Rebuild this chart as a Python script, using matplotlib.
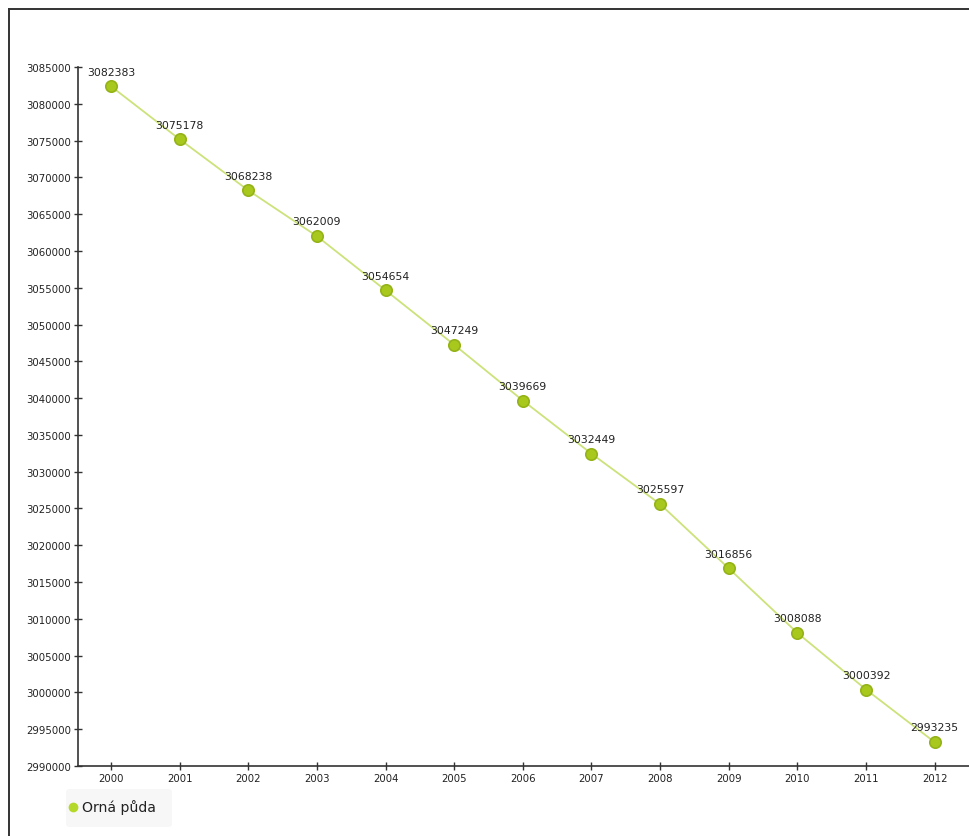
import numpy as np
import matplotlib
matplotlib.use('Agg')
import matplotlib.pyplot as plt
from matplotlib.lines import Line2D
from matplotlib.patches import FancyBboxPatch

# data
years = [2000, 2001, 2002, 2003, 2004, 2005, 2006, 2007, 2008, 2009, 2010, 2011, 2012]
orna_puda = [3082383, 3075178, 3068238, 3062009, 3054654, 3047249, 3039669,
             3032449, 3025597, 3016856, 3008088, 3000392, 2993235]
y_ticks = list(range(2990000, 3085001, 5000))
series_name = 'Orná půda'

W, H = 969, 837
fig = plt.figure(figsize=(W / 100, H / 100), dpi=100)

# frame around the chart (left and top edges visible)
fig.add_artist(Line2D([9 / W, 9 / W], [0, 1 - 10 / H], color='#333333', lw=1.4, transform=fig.transFigure))
fig.add_artist(Line2D([9 / W, 1], [1 - 10 / H, 1 - 10 / H], color='#333333', lw=1.4, transform=fig.transFigure))

ax = fig.add_axes([78 / W, (H - 767) / H, (W - 78) / W, (767 - 68) / H])
ax.plot(years, orna_puda, color='#cce27a', lw=1.3, zorder=2)
ax.plot(years, orna_puda, 'o', ms=8.2, mfc='#a9c81e', mec='#94b318', mew=1.2, zorder=3)

for x, v in zip(years, orna_puda):
    ax.annotate(str(v), (x, v), xytext=(0, 7), textcoords='offset points',
                ha='center', va='bottom', fontsize=7.8, color='#222222')

ax.set_xlim(1999.52, 2012.5)
ax.set_ylim(2990000, 3085000)
ax.set_xticks(years)
ax.set_yticks(y_ticks)
ax.set_xticklabels([str(y) for y in years])
ax.set_yticklabels([str(t) for t in y_ticks])

for s in ['top', 'right']:
    ax.spines[s].set_visible(False)
for s in ['left', 'bottom']:
    ax.spines[s].set_color('#333333')
    ax.spines[s].set_linewidth(1.2)
ax.tick_params(direction='inout', length=6, width=1, color='#333333',
               labelsize=7.3, labelcolor='#222222', pad=2)

# legend
fig.add_artist(FancyBboxPatch((66 / W, (H - 828) / H), 106 / W, 38 / H,
                              boxstyle='round,pad=0,rounding_size=0.004',
                              fc='#f7f7f7', ec='none', transform=fig.transFigure))
fig.add_artist(Line2D([73 / W], [(H - 808) / H], marker='o', ms=6, mfc='#b5d92a',
                      mec='#b5d92a', transform=fig.transFigure))
fig.text(82 / W, (H - 808) / H, series_name, fontsize=10.1, va='center', ha='left', color='#222222')

fig.savefig('out.png', dpi=100)
